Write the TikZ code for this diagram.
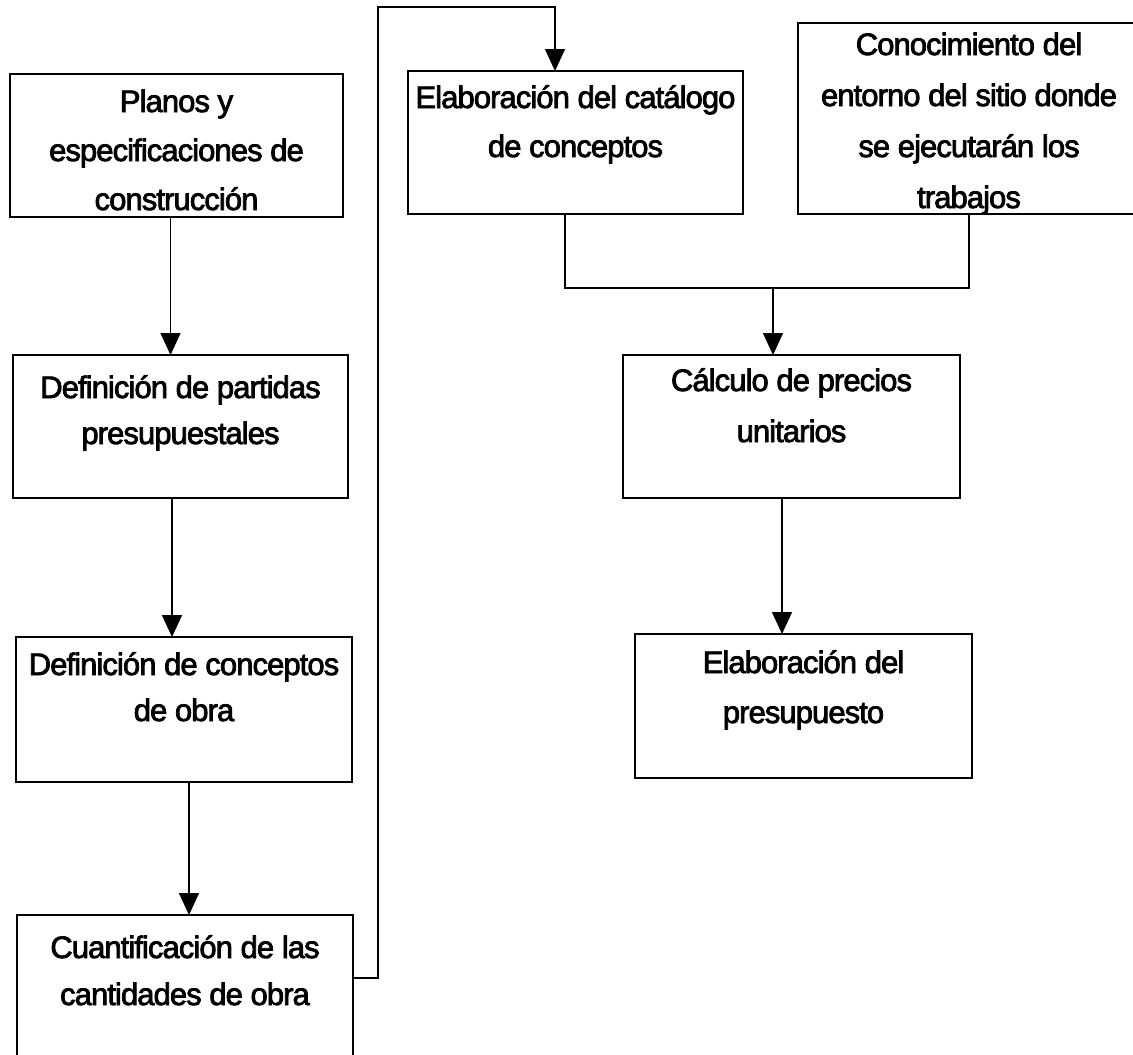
\documentclass[tikz,border=0pt]{standalone}
\usepackage{fontspec}
\setmainfont{Liberation Sans}[LetterSpace=-3,FakeBold=2.5]
\usetikzlibrary{arrows.meta}
\newcommand\bxt[5]{\parbox[t][#2pt][t]{#1pt}{\fontsize{31pt}{#4pt}\selectfont\centering\rule{0pt}{#3pt}#5}}
\tikzset{
  box/.style={draw, line width=1.8pt, inner sep=0pt, outer sep=0pt},
  conn/.style={draw, line width=1.5pt},
  arr/.style={conn, -{Triangle[length=22pt,width=20pt]}}
}
\begin{document}
\begin{tikzpicture}[x=1pt,y=-1pt]
\useasboundingbox (0,0) rectangle (1133,1055);
\fill[white] (0,0) rectangle (1133,1055);
\clip (0,0) rectangle (1133,1055);

\node[box] (b1) at (176.5,145.5) {\bxt{333}{143}{38}{49}{Planos y\\especificaciones de\\construcción}};
\node[box] (b2) at (180.5,426.5) {\bxt{335}{143}{43}{46}{Definición de partidas\\presupuestales}};
\node[box] (b3) at (184,709.5) {\bxt{336}{145}{38}{46}{Definición de conceptos\\de obra}};
\node[box] (b4) at (185,1015) {\bxt{336}{200}{43}{47}{Cuantificación de las\\cantidades de obra}};
\node[box] (b5) at (575.5,142.5) {\bxt{335}{143}{37}{49}{Elaboración del catálogo\\de conceptos}};
\node[box] (b6) at (969,118.5) {\bxt{342}{191}{32}{51}{Conocimiento del\\entorno del sitio donde\\se ejecutarán los\\trabajos}};
\node[box] (b7) at (791.5,426.5) {\bxt{337}{143}{36}{51}{Cálculo de precios\\unitarios}};
\node[box] (b8) at (803.5,706) {\bxt{337}{144}{39}{50}{Elaboración del\\presupuesto}};

% left column
\coordinate (a1) at ([xshift=-6pt]b1.south);
\draw[arr] (a1) -- (a1 |- b2.north);
\coordinate (a2) at ([xshift=-8.5pt]b2.south);
\draw[arr] (a2) -- (a2 |- b3.north);
\coordinate (a3) at ([xshift=5pt]b3.south);
\draw[arr] (a3) -- (a3 |- b4.north);

% loop from b4 to b5
\coordinate (l1) at ([yshift=-63pt]b4.north east);
\coordinate (ltop) at (378,7);
\coordinate (l2) at ([xshift=-20.5pt]b5.north);
\draw[arr] (l1) -| (ltop) -| (l2);

% merge b5 and b6 into b7
\coordinate (mbar) at (0,288);
\coordinate (m1) at ([xshift=-10.5pt]b5.south);
\draw[conn] (m1) -- (m1 |- mbar) -- (b6.south |- mbar) -- (b6.south);
\coordinate (m2) at ([xshift=-18.5pt]b7.north);
\draw[arr] (m2 |- mbar) -- (m2);

% b7 to b8
\coordinate (a7) at ([xshift=-9.5pt]b7.south);
\draw[arr] (a7) -- (a7 |- b8.north);
\end{tikzpicture}
\end{document}
